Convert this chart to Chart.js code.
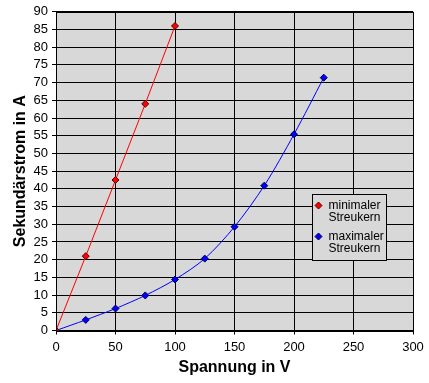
<!DOCTYPE html>
<html>
<head>
<meta charset="utf-8">
<script src="https://cdn.jsdelivr.net/npm/chart.js@4/dist/chart.umd.min.js"></script>
<style>
html,body{margin:0;padding:0;background:#fff;}
#wrap{position:relative;width:429px;height:383px;}
</style>
</head>
<body>
<div id="wrap"><canvas id="c" width="429" height="383"></canvas></div>
<script>
const minVoltage = [0, 25, 50, 75, 100];
const minCurrent = [0, 21, 42.5, 64, 86];
const maxVoltage = [0, 25, 50, 75, 100, 125, 150, 175, 200, 225];
const maxCurrent = [0, 3, 6.2, 9.9, 14.4, 20.3, 29.3, 40.9, 55.4, 71.4];
const seriesLabels = [["minimaler", "Streukern"], ["maximaler", "Streukern"]];
const xTitle = "Spannung in V";
const yTitle = "Sekundärstrom in A";

const FONT = "'Liberation Sans', Arial, sans-serif";

const bgPlugin = {
  id: 'bg',
  beforeDraw(chart) {
    const {ctx, chartArea: a} = chart;
    ctx.save();
    ctx.fillStyle = '#d8d8d8';
    ctx.fillRect(a.left, a.top, a.right - a.left, a.bottom - a.top);
    ctx.restore();
  },
  afterDraw(chart) {
    const {ctx, chartArea: a} = chart;
    ctx.save();
    ctx.strokeStyle = '#000';
    ctx.lineWidth = 1;
    ctx.strokeRect(Math.round(a.left) + 0.5, Math.round(a.top) + 0.5, Math.round(a.right - a.left), Math.round(a.bottom - a.top));
    // legend
    const bx = 312.5, by = 194.5, bw = 74, bh = 66;
    ctx.fillStyle = '#d8d8d8';
    ctx.fillRect(bx, by, bw, bh);
    ctx.strokeRect(bx, by, bw, bh);
    ctx.font = '12px ' + FONT;
    ctx.textBaseline = 'middle';
    ctx.textAlign = 'left';
    chart.data.datasets.forEach((ds, i) => {
      const cy = 205.5 + i * 31;
      const mx = 318.5;
      ctx.beginPath();
      ctx.moveTo(mx, cy - 3.5); ctx.lineTo(mx + 3.5, cy); ctx.lineTo(mx, cy + 3.5); ctx.lineTo(mx - 3.5, cy); ctx.closePath();
      ctx.fillStyle = ds.pointBackgroundColor;
      ctx.fill();
      ctx.strokeStyle = ds.pointBorderColor;
      ctx.stroke();
      ctx.fillStyle = '#000';
      ds.label.forEach((line, j) => ctx.fillText(line, 328.5, cy + j * 12.5));
    });
    ctx.restore();
  }
};

new Chart(document.getElementById('c'), {
  type: 'line',
  data: {
    datasets: [
      {
        label: seriesLabels[0],
        data: minVoltage.map((v, i) => ({x: v, y: minCurrent[i]})),
        borderColor: '#ff0000', borderWidth: 1,
        pointStyle: 'rectRot', pointRadius: 3.5,
        pointBackgroundColor: '#ff0000', pointBorderColor: '#500000', pointBorderWidth: 1,
        tension: 0
      },
      {
        label: seriesLabels[1],
        data: maxVoltage.map((v, i) => ({x: v, y: maxCurrent[i]})),
        borderColor: '#0000ff', borderWidth: 1,
        pointStyle: 'rectRot', pointRadius: 3.5,
        pointBackgroundColor: '#0000ff', pointBorderColor: '#000050', pointBorderWidth: 1,
        tension: 0.3
      }
    ]
  },
  options: {
    responsive: false,
    animation: false,
    events: [],
    layout: { autoPadding: false, padding: { left: 0, right: 16, top: 11, bottom: 0 } },
    plugins: { legend: { display: false }, tooltip: { enabled: false } },
    scales: {
      x: {
        type: 'linear', min: 0, max: 300,
        ticks: { stepSize: 50, autoSkip: false, color: '#000', font: { family: FONT, size: 13 }, padding: 5, maxRotation: 0 },
        grid: { color: '#000', lineWidth: 1, tickLength: 4, drawTicks: true },
        border: { color: '#000', width: 1 },
        title: { display: true, text: xTitle, color: '#000', font: { family: FONT, size: 16, weight: 'bold' }, padding: { top: 2, bottom: 6 } },
        afterFit(s) { s.height = 52.5; }
      },
      y: {
        type: 'linear', min: 0, max: 90,
        ticks: { stepSize: 5, autoSkip: false, color: '#000', font: { family: FONT, size: 13 }, padding: 4 },
        grid: { color: '#000', lineWidth: 1, tickLength: 4, drawTicks: true },
        border: { color: '#000', width: 1 },
        title: { display: true, text: yTitle, color: '#000', font: { family: FONT, size: 16, weight: 'bold' }, padding: { top: 11, bottom: 0 } },
        afterFit(s) { s.width = 56; }
      }
    }
  },
  plugins: [bgPlugin]
});
</script>
</body>
</html>
